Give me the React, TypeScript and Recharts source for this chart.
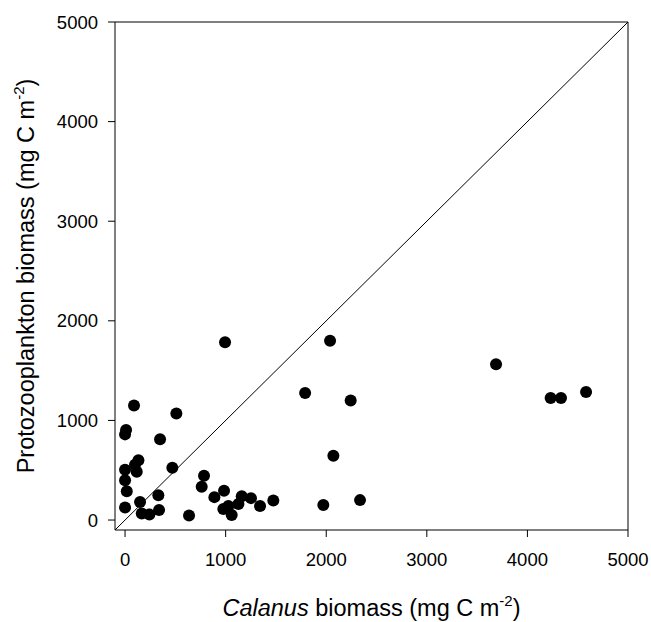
import React from 'react';
import { ScatterChart, Scatter, XAxis, YAxis, ReferenceLine } from 'recharts';

// Calanus biomass (x) vs protozooplankton biomass (y), mg C m^-2
const calanus = [
  89, 510, 10, 0, 348, 1790, 133, 99, 0, 116, 470, 0, 17, 785, 762, 331, 149, 0, 166, 242, 338,
  636, 888, 984, 977, 1027, 1060, 1127, 1160, 1252, 1342, 1474, 994, 2038, 2243, 2071, 1971, 2336,
  3688, 4231, 4334, 4583,
];
const protozoo = [
  1150, 1070, 905, 860, 810, 1275, 600, 555, 505, 485, 525, 400, 290, 445, 335, 250, 180, 125, 65,
  55, 100, 45, 230, 295, 110, 140, 50, 160, 240, 220, 140, 195, 1785, 1800, 1200, 645, 150, 200,
  1565, 1225, 1225, 1285,
];
const ticks = [0, 1000, 2000, 3000, 4000, 5000];

const points = calanus.map((x, i) => ({ x, y: protozoo[i] }));

const font = "Arial, 'Liberation Sans', sans-serif";

const XTitle = (props: any) => {
  const vb = props.viewBox;
  return (
    <text x={vb.x + vb.width / 2} y={vb.y + 86} textAnchor="middle" fontSize={23.5} fontFamily={font} fill="#000">
      <tspan fontStyle="italic">Calanus</tspan>
      <tspan> biomass (mg C m</tspan>
      <tspan dy={-10} fontSize={15}>-2</tspan>
      <tspan dy={10}>)</tspan>
    </text>
  );
};

const YTitle = (props: any) => {
  const vb = props.viewBox;
  const cx = vb.x + 26;
  const cy = vb.y + vb.height / 2;
  return (
    <text x={cx} y={cy} textAnchor="middle" fontSize={23.5} fontFamily={font} fill="#000"
      transform={`rotate(-90, ${cx}, ${cy})`}>
      <tspan>Protozooplankton biomass (mg C m</tspan>
      <tspan dy={-10} fontSize={15}>-2</tspan>
      <tspan dy={10}>)</tspan>
    </text>
  );
};

const Dot = (p: any) => <circle cx={p.cx} cy={p.cy} r={6} fill="#000" />;

export default function App() {
  // absolute so the body's bottom margin doesn't add a scrollbar
  return (
    <div style={{ position: 'absolute', left: 8, top: 8, fontFamily: font }}>
      <ScatterChart width={643} height={614} margin={{ top: 14, right: 23, bottom: 0, left: 0 }}>
        <XAxis
          type="number"
          dataKey="x"
          domain={[-100, 5000]}
          ticks={ticks}
          allowDataOverflow
          height={92}
          tickSize={7}
          tickMargin={16}
          stroke="#000"
          tick={{ fill: '#000', fontSize: 18.5, fontFamily: font }}
          label={<XTitle />}
        />
        <YAxis
          type="number"
          dataKey="y"
          domain={[-100, 5000]}
          ticks={ticks}
          allowDataOverflow
          width={107}
          tickSize={7}
          tickMargin={10}
          stroke="#000"
          tick={{ fill: '#000', fontSize: 18.5, fontFamily: font }}
          label={<YTitle />}
        />
        <ReferenceLine y={5000} stroke="#000" />
        <ReferenceLine x={5000} stroke="#000" />
        <ReferenceLine
          segment={[{ x: -100, y: -100 }, { x: 5000, y: 5000 }]}
          stroke="#000"
          strokeWidth={1}
        />
        <Scatter data={points} shape={<Dot />} isAnimationActive={false} />
      </ScatterChart>
    </div>
  );
}
